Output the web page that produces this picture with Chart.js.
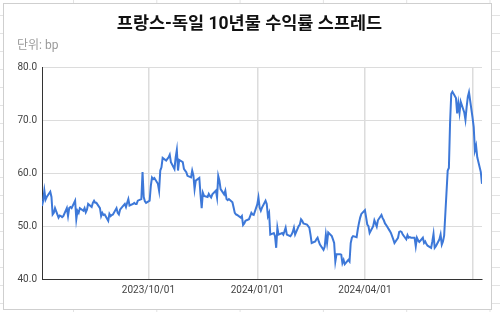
<!DOCTYPE html>
<html>
<head>
<meta charset="utf-8">
<script src="https://cdn.jsdelivr.net/npm/chart.js@4.4.1/dist/chart.umd.min.js"></script>
<style>
  html, body { margin: 0; padding: 0; }
  body {
    width: 500px; height: 312px; position: relative; overflow: hidden; background: #fff;
  }
  .sheet {
    position: absolute; left: 0; top: 0; width: 500px; height: 312px;
    background-image:
      linear-gradient(to right, #e3e3e3 1px, transparent 1px),
      linear-gradient(to bottom, #e3e3e3 1px, transparent 1px);
    background-size: 83.3px 100%, 100% 18px;
    background-position: 73px 0, 0 15px;
  }
  .box {
    position: absolute; left: 3px; top: 3px; width: 487px; height: 305px;
    background: #fff; border: 1px solid #cfcfcf;
  }
  canvas { position: absolute; left: 0; top: 0; }
</style>
</head>
<body>
<div class="sheet"></div>
<div class="box"></div>
<canvas id="chart" width="500" height="312"></canvas>
<script>
const titleText = '프랑스-독일 10년물 수익률 스프레드';
const unitText = '단위: bp';

// first trading day, values are one per business day after it
const startDate = '2023-07-03';

const q3_2023 = [
  53.8, 54.8, 56.7, 55.0, 55.5, 56.5, 55.5, 52.2, 52.5, 53.4,
  51.6, 52.0, 51.9, 51.7, 51.9, 53.4, 51.9, 53.4, 53.6, 53.4,
  54.8, 51.3, 52.9, 52.5, 53.4, 52.9, 53.4, 52.6, 53.1, 54.2,
  53.6, 54.4, 54.8, 54.4, 54.4, 53.4, 51.9, 52.5, 52.1, 52.2,
  51.0, 52.3, 51.9, 52.1, 52.2, 53.4, 52.5, 52.2, 53.1, 53.4,
  54.2, 53.6, 54.4, 55.1, 53.9, 54.2, 54.4, 54.2, 54.2, 54.8,
  55.1, 60.2, 55.5, 54.7, 54.4
];
const q4_2023 = [
  54.8, 57.6, 59.2, 58.9, 59.1, 58.0, 56.7, 60.5, 61.1, 62.9,
  62.4, 62.7, 63.0, 63.5, 62.1, 60.8, 63.0, 64.4, 60.5, 62.5,
  62.1, 60.8, 60.5, 60.2, 59.5, 59.2, 60.5, 59.6, 57.0, 58.6,
  59.1, 56.0, 53.4, 56.3, 55.7, 55.5, 56.1, 55.7, 55.4, 56.0,
  56.7, 55.4, 59.5, 58.6, 57.0, 56.0, 56.7, 55.1, 54.9, 55.1,
  54.5, 53.5, 52.5, 52.2, 52.1, 51.6, 51.9, 50.2, 50.5, 51.0,
  51.3, 51.9, 52.5, 52.2, 52.1
];
const q1_2024 = [
  54.1, 55.4, 53.5, 52.9, 53.5, 54.8, 54.2, 51.9, 52.5, 48.4,
  48.7, 48.1, 45.9, 49.7, 48.4, 48.7, 48.4, 49.0, 49.7, 48.4,
  48.1, 48.4, 48.9, 49.7, 48.4, 50.0, 50.3, 51.3, 51.0, 50.5,
  50.3, 50.0, 49.7, 48.4, 46.8, 47.1, 47.5, 47.8, 47.1, 46.5,
  45.5, 46.1, 48.4, 46.8, 48.8, 48.1, 47.5, 46.8, 43.3, 44.7,
  44.7, 44.6, 43.0, 43.6, 42.8, 43.6, 43.3, 46.8, 47.8, 48.1,
  47.9, 49.4, 50.6, 51.6, 52.3
];
const q2_2024 = [
  53.0, 51.7, 50.3, 50.0, 48.7, 50.0, 51.1, 50.5, 49.9, 51.1,
  52.1, 51.5, 51.1, 50.5, 50.2, 49.1, 48.7, 48.1, 47.5, 46.8,
  47.8, 48.9, 49.0, 48.9, 48.4, 47.5, 48.3, 47.8, 47.9, 47.8,
  47.8, 46.2, 47.8, 47.3, 47.0, 47.8, 46.8, 47.1, 46.6, 46.3,
  45.9, 47.1, 48.5, 45.9, 46.2, 47.5, 48.4, 46.5, 47.1, 48.2,
  60.5, 61.0, 69.5, 75.0, 75.4, 74.2, 71.3, 73.2, 71.4, 73.5,
  71.5, 70.1, 72.5, 74.4, 75.3
];
const q3_2024 = [70.5, 68.7, 64.3, 65.2, 63.0, 60.2, 58.0];

const tickDates = ['2023-10-01', '2024-01-01', '2024-04-01', '2024-07-01'];
const tickLabels = ['2023/10/01', '2024/01/01', '2024/04/01', ''];

const yMin = 40;
const yMax = 80;
const yStep = 10;

const spread = [].concat(q3_2023, q4_2023, q1_2024, q2_2024, q3_2024);

const DAY = 86400000;
const toDay = s => Date.parse(s + 'T00:00:00Z') / DAY;

function businessDays(start, n) {
  const out = [];
  const d = new Date(start + 'T00:00:00Z');
  while (out.length < n) {
    const w = d.getUTCDay();
    if (w !== 0 && w !== 6) out.push(d.getTime() / DAY);
    d.setUTCDate(d.getUTCDate() + 1);
  }
  return out;
}

const days = businessDays(startDate, spread.length);
const points = spread.map((v, i) => ({ x: days[i], y: v }));
const tickDays = tickDates.map(toDay);

const font = "Roboto, 'Noto Sans CJK KR', sans-serif";

new Chart(document.getElementById('chart'), {
  type: 'line',
  data: {
    datasets: [{
      data: points,
      borderColor: '#3d78d8',
      borderWidth: 2,
      pointRadius: 0,
      tension: 0,
      fill: false
    }]
  },
  options: {
    responsive: false,
    animation: false,
    layout: { padding: { left: 17, right: 18, top: 0, bottom: 11 } },
    plugins: {
      legend: { display: false },
      tooltip: { enabled: false },
      title: {
        display: true,
        text: titleText,
        color: '#111',
        font: { family: font, size: 17.5, weight: 'bold' },
        padding: { top: 14, bottom: 4 }
      },
      subtitle: {
        display: true,
        text: unitText,
        align: 'start',
        color: '#9a9a9a',
        font: { family: font, size: 12 },
        padding: { top: 0, bottom: 14 }
      }
    },
    scales: {
      x: {
        type: 'linear',
        min: days[0],
        max: days[days.length - 1],
        afterBuildTicks: scale => {
          scale.ticks = tickDays.map(v => ({ value: v }));
        },
        ticks: {
          autoSkip: false,
          maxRotation: 0,
          padding: 5,
          color: '#444',
          font: { family: font, size: 10 },
          callback: value => tickLabels[tickDays.indexOf(value)]
        },
        grid: { color: '#dcdcdc', lineWidth: 1.5, drawTicks: false },
        border: { color: '#333', width: 1 }
      },
      y: {
        min: yMin,
        max: yMax,
        afterFit: scale => { scale.width = 25; },
        ticks: {
          stepSize: yStep,
          padding: 5,
          color: '#444',
          font: { family: font, size: 10 },
          callback: value => value.toFixed(1)
        },
        grid: { color: '#dcdcdc', lineWidth: 1, drawTicks: false },
        border: { color: '#333', width: 1 }
      }
    }
  }
});
</script>
</body>
</html>
